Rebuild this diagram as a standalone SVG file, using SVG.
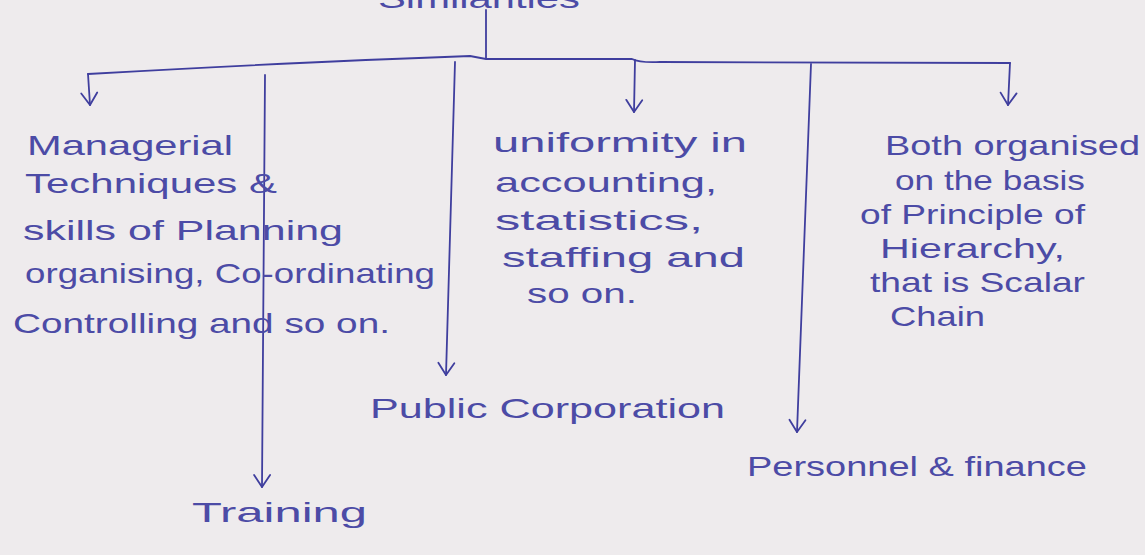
<svg xmlns="http://www.w3.org/2000/svg" width="1145" height="555" viewBox="0 0 1145 555">
<defs>
<style>
.bg{fill:#eeebed}
.t{font-family:"Liberation Sans","DejaVu Sans",sans-serif;font-size:28px;fill:#4c4ba6}
.c{fill:none;stroke:#3f3e9e;stroke-width:1.8;stroke-linecap:round;stroke-linejoin:round}
</style>
<marker id="ah" viewBox="0 0 20 20" refX="17" refY="10" markerWidth="20" markerHeight="20" markerUnits="userSpaceOnUse" orient="auto">
<path d="M5,2 L17,10 L5,18" fill="none" stroke="#3f3e9e" stroke-width="1.8" stroke-linecap="round" stroke-linejoin="round"/>
</marker>
</defs>
<rect class="bg" x="0" y="0" width="1145" height="555"/>

<g id="root">
<text class="t" x="378" y="8" textLength="202" lengthAdjust="spacingAndGlyphs">Similarities</text>
</g>

<g id="connectors">
<path class="c" d="M486,10 L486,58"/>
<path class="c" d="M88,74 Q300,62 470,56 L486,59 L632,59 Q640,63 660,62 L1010,63"/>
<path class="c" d="M88,74 L90,105" marker-end="url(#ah)"/>
<path class="c" d="M265,75 L262,487" marker-end="url(#ah)"/>
<path class="c" d="M455,62 L446,375" marker-end="url(#ah)"/>
<path class="c" d="M635,60 L634,112" marker-end="url(#ah)"/>
<path class="c" d="M811,64 L797,432" marker-end="url(#ah)"/>
<path class="c" d="M1010,63 L1008,105" marker-end="url(#ah)"/>
</g>

<g id="managerial">
<text class="t" x="27" y="155" textLength="206" lengthAdjust="spacingAndGlyphs">Managerial</text>
<text class="t" x="25" y="193" textLength="252" lengthAdjust="spacingAndGlyphs">Techniques &amp;</text>
<text class="t" x="23" y="240" textLength="320" lengthAdjust="spacingAndGlyphs">skills of Planning</text>
<text class="t" x="25" y="283" textLength="410" lengthAdjust="spacingAndGlyphs">organising, Co-ordinating</text>
<text class="t" x="13" y="333" textLength="377" lengthAdjust="spacingAndGlyphs">Controlling and so on.</text>
</g>

<g id="training">
<text class="t" x="192" y="522" textLength="175" lengthAdjust="spacingAndGlyphs">Training</text>
</g>

<g id="public-corporation">
<text class="t" x="370" y="418" textLength="355" lengthAdjust="spacingAndGlyphs">Public Corporation</text>
</g>

<g id="uniformity">
<text class="t" x="493" y="152" textLength="254" lengthAdjust="spacingAndGlyphs">uniformity in</text>
<text class="t" x="495" y="192" textLength="222" lengthAdjust="spacingAndGlyphs">accounting,</text>
<text class="t" x="495" y="230" textLength="208" lengthAdjust="spacingAndGlyphs">statistics,</text>
<text class="t" x="502" y="267" textLength="243" lengthAdjust="spacingAndGlyphs">staffing and</text>
<text class="t" x="527" y="303" textLength="110" lengthAdjust="spacingAndGlyphs">so on.</text>
</g>

<g id="personnel">
<text class="t" x="747" y="476" textLength="340" lengthAdjust="spacingAndGlyphs">Personnel &amp; finance</text>
</g>

<g id="hierarchy">
<text class="t" x="885" y="155" textLength="255" lengthAdjust="spacingAndGlyphs">Both organised</text>
<text class="t" x="895" y="190" textLength="190" lengthAdjust="spacingAndGlyphs">on the basis</text>
<text class="t" x="860" y="224" textLength="225" lengthAdjust="spacingAndGlyphs">of Principle of</text>
<text class="t" x="880" y="258" textLength="185" lengthAdjust="spacingAndGlyphs">Hierarchy,</text>
<text class="t" x="870" y="292" textLength="215" lengthAdjust="spacingAndGlyphs">that is Scalar</text>
<text class="t" x="890" y="326" textLength="95" lengthAdjust="spacingAndGlyphs">Chain</text>
</g>
</svg>
